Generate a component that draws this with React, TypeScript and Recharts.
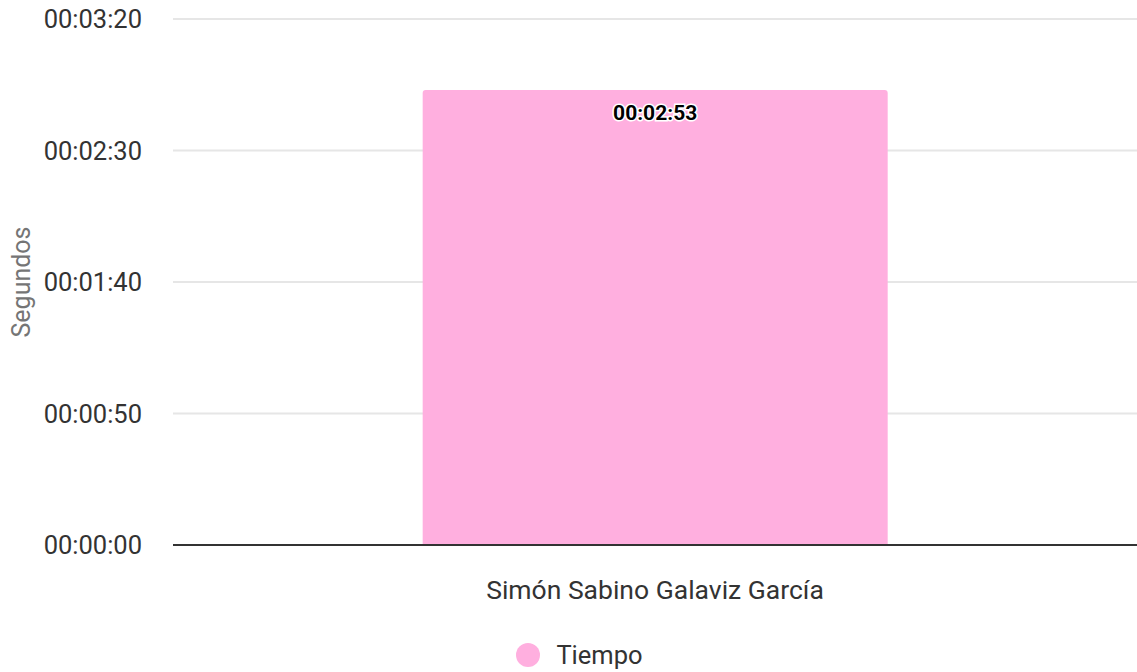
import React from "react";
import {
  BarChart,
  Bar,
  XAxis,
  YAxis,
  CartesianGrid,
  Legend,
  LabelList,
} from "recharts";

const categories = ["Simón Sabino Galaviz García"];
const tiempoSeconds = [173];
const yTicks = [0, 50, 100, 150, 200];

const data = categories.map((name, i) => ({ name, tiempo: tiempoSeconds[i] }));

const pad = (n: number) => String(n).padStart(2, "0");
const toHms = (s: number) => {
  const v = Math.round(s);
  return `${pad(Math.floor(v / 3600))}:${pad(Math.floor((v % 3600) / 60))}:${pad(v % 60)}`;
};

const FONT = "Roboto, 'Liberation Sans', sans-serif";

const renderLegend = (props: any) => {
  const { payload } = props;
  return (
    <div style={{ display: "flex", justifyContent: "center", fontFamily: FONT, marginTop: -3 }}>
      {payload.map((p: any) => (
        <div key={p.value} style={{ display: "flex", alignItems: "center", marginLeft: 22 }}>
          <span
            style={{
              width: 24,
              height: 24,
              borderRadius: "50%",
              background: p.color,
              display: "inline-block",
              marginRight: 16,
            }}
          />
          <span style={{ fontSize: 25.5, color: "#333" }}>{p.value}</span>
        </div>
      ))}
    </div>
  );
};

export default function App() {
  return (
    <div style={{ position: "fixed", left: 0, top: 0, background: "#fff" }}>
      <BarChart
        width={1137}
        height={672}
        data={data}
        margin={{ top: 19, right: 0, left: 0, bottom: 5 }}
        barCategoryGap="25.9%"
      >
        <CartesianGrid vertical={false} stroke="#e6e6e6" strokeWidth={2} />
        <XAxis
          dataKey="name"
          axisLine={{ stroke: "#333", strokeWidth: 2 }}
          tickLine={false}
          tickMargin={29}
          height={98}
          tick={{ fill: "#333", fontSize: 26.5, fontFamily: FONT }}
        />
        <YAxis
          width={173}
          domain={[0, 200]}
          ticks={yTicks}
          tickFormatter={toHms}
          axisLine={false}
          tickLine={false}
          tickMargin={25}
          tick={{ fill: "#333", fontSize: 25.5, fontFamily: FONT }}
          label={{
            content: (p: any) => {
              const vb = p.viewBox || {};
              const cy = (vb.y || 0) + (vb.height || 0) / 2;
              return (
                <text
                  x={30}
                  y={cy}
                  transform={`rotate(-90 30 ${cy})`}
                  textAnchor="middle"
                  fill="#757575"
                  fontSize={25}
                  fontFamily={FONT}
                >
                  Segundos
                </text>
              );
            },
          }}
        />
        <Legend verticalAlign="bottom" content={renderLegend} wrapperStyle={{ height: 24 }} />
        <Bar
          dataKey="tiempo"
          name="Tiempo"
          fill="#ffafdf"
          radius={[3, 3, 0, 0]}
          isAnimationActive={false}
        >
          <LabelList
            dataKey="tiempo"
            position="insideTop"
            offset={15}
            formatter={(v: any) => toHms(Number(v))}
            fill="#000"
            stroke="#fff"
            strokeWidth={3}
            paintOrder="stroke"
            fontSize={21}
            fontWeight="bold"
            fontFamily={FONT}
          />
        </Bar>
      </BarChart>
    </div>
  );
}
